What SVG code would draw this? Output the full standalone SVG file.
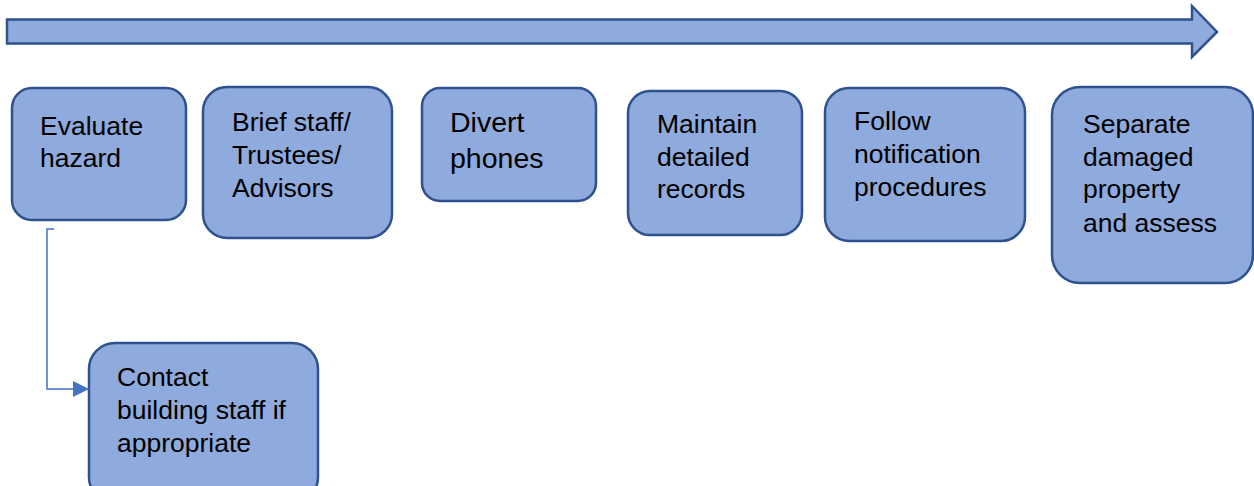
<svg xmlns="http://www.w3.org/2000/svg" width="1254" height="486" viewBox="0 0 1254 486">
  <defs>
    <style>
      .box { fill: #8FAADC; stroke: #2F528F; stroke-width: 2.5; }
      .lbl { font-family: "Liberation Sans", Arial, sans-serif; font-size: 26.5px; fill: #000000; }
      .big { font-size: 28.5px; }
      .link { fill: none; stroke: #4472C4; stroke-width: 1.5; }
    </style>
    <marker id="triBig" viewBox="0 0 16 16" refX="16" refY="8" markerWidth="16" markerHeight="16" markerUnits="userSpaceOnUse" orient="auto">
      <path d="M0,0 L16,8 L0,16 Z" fill="#4472C4"/>
    </marker>
  </defs>

  <!-- timeline arrow -->
  <g id="timeline">
    <path class="box" d="M7,19.5 L1192,19.5 L1192,6 L1217,32 L1192,57 L1192,43.5 L7,43.5 Z"/>
  </g>

  <g id="evaluate">
    <rect class="box" x="12" y="88" width="174" height="132" rx="20"/>
    <text class="lbl" x="40" y="135">Evaluate</text>
    <text class="lbl" x="40" y="167">hazard</text>
  </g>

  <g id="brief">
    <rect class="box" x="203" y="87" width="189" height="151" rx="24"/>
    <text class="lbl" x="232" y="131">Brief staff/</text>
    <text class="lbl" x="232" y="164">Trustees/</text>
    <text class="lbl" x="232" y="197">Advisors</text>
  </g>

  <g id="divert">
    <rect class="box" x="422" y="88" width="174" height="113" rx="18"/>
    <text class="lbl big" x="450" y="132">Divert</text>
    <text class="lbl big" x="450" y="168">phones</text>
  </g>

  <g id="maintain">
    <rect class="box" x="628" y="91" width="174" height="144" rx="22"/>
    <text class="lbl" x="657" y="133">Maintain</text>
    <text class="lbl" x="657" y="166">detailed</text>
    <text class="lbl" x="657" y="198">records</text>
  </g>

  <g id="follow">
    <rect class="box" x="825" y="88" width="200" height="153" rx="24"/>
    <text class="lbl" x="854" y="130">Follow</text>
    <text class="lbl" x="854" y="163">notification</text>
    <text class="lbl" x="854" y="196">procedures</text>
  </g>

  <g id="separate">
    <rect class="box" x="1052" y="87" width="201" height="196" rx="28"/>
    <text class="lbl" x="1083" y="133">Separate</text>
    <text class="lbl" x="1083" y="166">damaged</text>
    <text class="lbl" x="1083" y="198">property</text>
    <text class="lbl" x="1083" y="232">and assess</text>
  </g>

  <g id="contact">
    <rect class="box" x="89" y="343" width="229" height="160" rx="26"/>
    <text class="lbl" x="117" y="386">Contact</text>
    <text class="lbl" x="117" y="419">building staff if</text>
    <text class="lbl" x="117" y="452">appropriate</text>
  </g>

  <!-- connectors -->
  <g id="connectors">
    <path class="link" d="M54,229 L47,229 L47,389 L89,389" marker-end="url(#triBig)"/>
  </g>
</svg>
